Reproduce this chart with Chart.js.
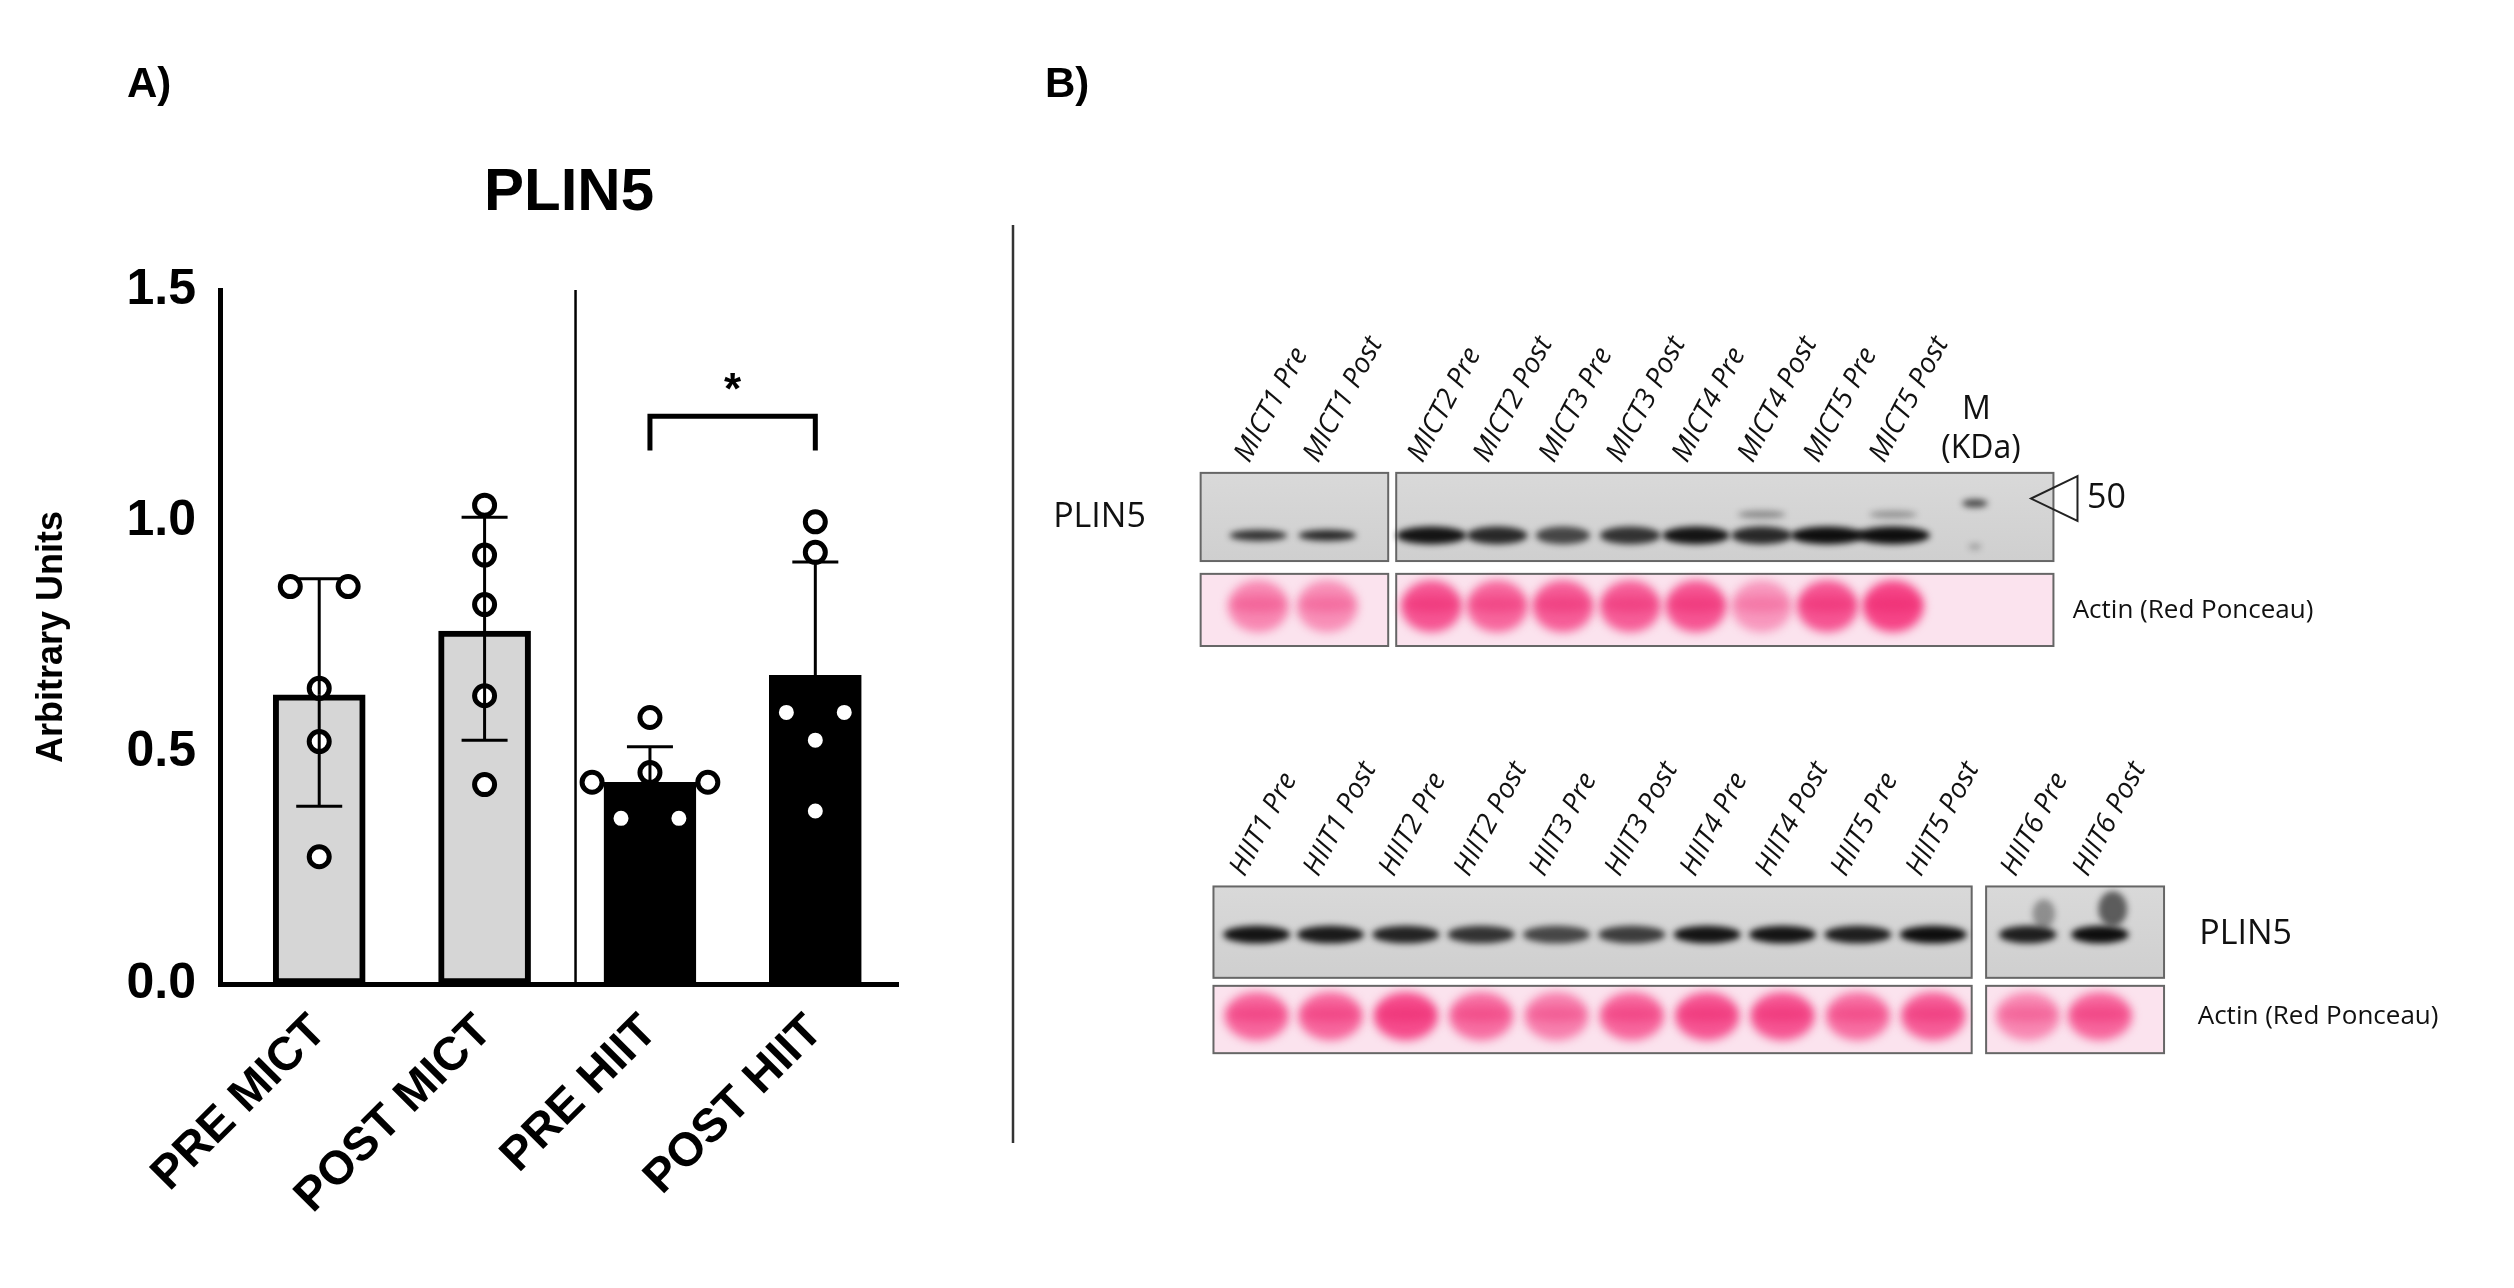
<!DOCTYPE html>
<html><head><meta charset="utf-8">
<script src="https://cdn.jsdelivr.net/npm/chart.js@4/dist/chart.umd.min.js"></script>
<style>html,body{margin:0;padding:0;background:#fff}#w{width:2514px;height:1288px;position:relative}</style>
</head><body><div id="w"><canvas id="c" width="2514" height="1288"></canvas></div>
<script>
const categories = ['PRE MICT','POST MICT','PRE HIIT','POST HIIT'];
const means = [0.625, 0.763, 0.436, 0.667];
const errUpper = [0.876, 1.009, 0.513, 0.912];
const errLower = [0.384, 0.527, null, null];
const pointsPreMICT = [0.859, 0.859, 0.639, 0.524, 0.275];
const pointsPostMICT = [1.035, 0.927, 0.820, 0.623, 0.431];
const pointsPreHIIT = [0.576, 0.457, 0.436, 0.436, 0.358, 0.358];
const pointsPostHIIT = [0.999, 0.933, 0.587, 0.587, 0.527, 0.374];
const yTicks = [0, 0.5, 1.0, 1.5];
const sigY = 1.227, sigLeg = 1.153;
const micLanes = ['MICT1 Pre','MICT1 Post','MICT2 Pre','MICT2 Post','MICT3 Pre','MICT3 Post','MICT4 Pre','MICT4 Post','MICT5 Pre','MICT5 Post'];
const hiitLanes = ['HIIT1 Pre','HIIT1 Post','HIIT2 Pre','HIIT2 Post','HIIT3 Pre','HIIT3 Post','HIIT4 Pre','HIIT4 Post','HIIT5 Pre','HIIT5 Post','HIIT6 Pre','HIIT6 Post'];

const allPts = [pointsPreMICT, pointsPostMICT, pointsPreHIIT, pointsPostHIIT];
// simple beeswarm: cluster near-equal values, spread symmetrically around the category
function swarm(vals, gi){
  const sorted=[...vals].sort((a,b)=>b-a), clusters=[];
  sorted.forEach(v=>{
    const c=clusters[clusters.length-1];
    if(c && Math.abs(c[c.length-1]-v)<0.045) c.push(v); else clusters.push([v]);
  });
  const out=[];
  clusters.forEach(c=>{
    const n=c.length, step=0.35;
    const order=n===3?[1,0,2]:c.map((_,k)=>k);
    c.forEach((v,k)=>out.push({x:gi+(order[k]-(n-1)/2)*step,y:v}));
  });
  return out;
}
const scatterData = allPts.flatMap((a,i)=>swarm(a,i));

const S = 1.603;
const F = 'Liberation Sans, Arial, sans-serif';
const B = '"Open Sans", Calibri, sans-serif';

function blotBox(ctx,x,y,w,h){
  ctx.save();
  const g=ctx.createLinearGradient(x,y,x,y+h);
  g.addColorStop(0,'#d9d9d9');g.addColorStop(1,'#cfcfcf');
  ctx.fillStyle=g;ctx.fillRect(x,y,w,h);
  ctx.strokeStyle='#666';ctx.lineWidth=2;ctx.strokeRect(x,y,w,h);ctx.restore();
}
function band(ctx,cx,cy,w,h,a){
  ctx.save();ctx.fillStyle=`rgba(10,10,10,${a})`;ctx.filter='blur(3px)';
  ctx.beginPath();ctx.ellipse(cx,cy,w/2,h/2,0,0,Math.PI*2);ctx.fill();ctx.restore();
}
function pinkBox(ctx,x,y,w,h){
  ctx.save();ctx.fillStyle='#fbe3ee';ctx.fillRect(x,y,w,h);
  ctx.strokeStyle='#666';ctx.lineWidth=2;ctx.strokeRect(x,y,w,h);ctx.restore();
}
function pinkLane(ctx,cx,y,h,w,a){
  ctx.save();ctx.filter='blur(5px)';ctx.fillStyle=`rgba(245,60,130,${a})`;
  ctx.beginPath();ctx.ellipse(cx,y+h*0.45,w/2,h*0.36,0,0,Math.PI*2);ctx.fill();
  ctx.fillStyle=`rgba(235,40,110,${a*0.6})`;
  ctx.beginPath();ctx.ellipse(cx,y+h*0.42,w*0.45,h*0.12,0,0,Math.PI*2);ctx.fill();
  ctx.restore();
}
function laneLabel(ctx,t,x,y){
  ctx.save();ctx.translate(x,y);ctx.rotate(-62*Math.PI/180);
  ctx.font='italic 28px '+B;ctx.fillStyle='#111';ctx.textAlign='left';ctx.textBaseline='middle';
  ctx.fillText(t,0,0);ctx.restore();
}

const deco = {
  id:'deco',
  afterDatasetsDraw(chart){
    const ctx=chart.ctx, xs=chart.scales.x, ys=chart.scales.y;
    ctx.save();
    ctx.strokeStyle='#000';ctx.lineWidth=3;
    means.forEach((m,i)=>{
      const x=xs.getPixelForValue(i), cap=23;
      [errUpper[i],errLower[i]].forEach(e=>{
        if(e==null)return;
        const y=ys.getPixelForValue(e);
        ctx.beginPath();ctx.moveTo(x,ys.getPixelForValue(m));ctx.lineTo(x,y);ctx.stroke();
        ctx.beginPath();ctx.moveTo(x-cap,y);ctx.lineTo(x+cap,y);ctx.stroke();
      });
    });
    ctx.restore();
  },
  afterDraw(chart){
    const ctx=chart.ctx, xs=chart.scales.x, ys=chart.scales.y;
    ctx.save();
    ctx.strokeStyle='#000';ctx.lineWidth=2.5;
    const sx=xs.getPixelForValue(1.55);
    ctx.beginPath();ctx.moveTo(sx,ys.getPixelForValue(1.5));ctx.lineTo(sx,ys.getPixelForValue(0));ctx.stroke();
    const x1=xs.getPixelForValue(2), x2=xs.getPixelForValue(3);
    ctx.lineWidth=5;ctx.beginPath();
    ctx.moveTo(x1,ys.getPixelForValue(sigLeg));ctx.lineTo(x1,ys.getPixelForValue(sigY));
    ctx.lineTo(x2,ys.getPixelForValue(sigY));ctx.lineTo(x2,ys.getPixelForValue(sigLeg));ctx.stroke();
    ctx.fillStyle='#000';ctx.font='bold 44px '+F;ctx.textAlign='center';ctx.textBaseline='alphabetic';
    ctx.fillText('*',(x1+x2)/2,ys.getPixelForValue(sigY)-12);
    ctx.font='bold 60px '+F;ctx.fillText('PLIN5',569,210);
    ctx.font='bold 42px '+F;ctx.textAlign='left';
    ctx.fillText('A)',127,97);ctx.fillText('B)',1045,97);
    ctx.lineWidth=2.5;ctx.strokeStyle='#333';
    ctx.beginPath();ctx.moveTo(1013,225);ctx.lineTo(1013,1143);ctx.stroke();
    // top blots
    blotBox(ctx,749*S,295*S,117*S,55*S);
    blotBox(ctx,871*S,295*S,410*S,55*S);
    const topX=[785,828,893,934,975,1017,1058,1099,1140,1181];
    const topA=[0.8,0.85,0.95,0.85,0.7,0.8,0.95,0.85,0.98,0.98];
    const topW=[36,36,44,38,34,38,42,38,46,46];
    topX.forEach((x,i)=>{band(ctx,x*S,334*S,topW[i]*S,(i<2?7:11)*S,topA[i]);});
    band(ctx,1099*S,321*S,30*S,5*S,0.35);band(ctx,1181*S,321*S,30*S,5*S,0.3);
    band(ctx,1232*S,314*S,16*S,5*S,0.7);band(ctx,1232*S,341*S,8*S,4*S,0.25);
    pinkBox(ctx,749*S,358*S,117*S,45*S);pinkBox(ctx,871*S,358*S,410*S,45*S);
    const topP=[0.55,0.5,0.85,0.75,0.8,0.8,0.85,0.45,0.85,0.95];
    topX.forEach((x,i)=>pinkLane(ctx,x*S,358*S,45*S,38*S,topP[i]));
    micLanes.forEach((t,i)=>laneLabel(ctx,t,(topX[i]-10)*S,287*S));
    ctx.fillStyle='#111';ctx.font='32px '+B;ctx.textAlign='left';ctx.textBaseline='middle';
    ctx.fillText('M',1224*S,256*S);ctx.fillText('(KDa)',1211*S,280*S);
    ctx.font='34px '+B;ctx.fillText('PLIN5',657*S,323*S);ctx.fillText('50',1302*S,311*S);
    ctx.font='26px '+B;ctx.fillText('Actin (Red Ponceau)',1293*S,381*S);
    ctx.lineWidth=2;ctx.strokeStyle='#222';ctx.beginPath();
    ctx.moveTo(1296*S,297*S);ctx.lineTo(1267*S,311*S);ctx.lineTo(1296*S,325*S);ctx.closePath();ctx.stroke();
    // bottom blots
    blotBox(ctx,757*S,553*S,473*S,57*S);blotBox(ctx,1239*S,553*S,111*S,57*S);
    const botX=[784,830,877,924,971,1018,1065,1112,1159,1206,1265,1310];
    const botA=[0.95,0.92,0.88,0.8,0.7,0.75,0.95,0.95,0.9,0.98,0.9,0.98];
    botX.forEach((x,i)=>band(ctx,x*S,583*S,(i>=10?36:42)*S,11*S,botA[i]));
    band(ctx,1275*S,570*S,14*S,18*S,0.35);band(ctx,1318*S,567*S,18*S,22*S,0.6);
    pinkBox(ctx,757*S,615*S,473*S,42*S);pinkBox(ctx,1239*S,615*S,111*S,42*S);
    const botP=[0.75,0.75,0.9,0.7,0.6,0.75,0.85,0.85,0.7,0.8,0.55,0.75];
    botX.forEach((x,i)=>pinkLane(ctx,x*S,615*S,42*S,40*S,botP[i]));
    hiitLanes.forEach((t,i)=>laneLabel(ctx,t,(botX[i]-12)*S,545*S));
    ctx.fillStyle='#111';ctx.font='34px '+B;ctx.textAlign='left';ctx.textBaseline='middle';
    ctx.fillText('PLIN5',1372*S,583*S);
    ctx.font='26px '+B;ctx.fillText('Actin (Red Ponceau)',1371*S,634*S);
    ctx.restore();
  }
};

new Chart(document.getElementById('c'),{
  data:{datasets:[
    {type:'scatter',data:scatterData,pointRadius:10,pointBorderWidth:5,pointBackgroundColor:'#fff',pointBorderColor:'#000',order:0},
    {type:'bar',data:means.map((v,i)=>({x:i,y:v})),barThickness:92,
     backgroundColor:['#d6d6d6','#d6d6d6','#000','#000'],borderColor:'#000',borderWidth:6,borderSkipped:false,order:1}
  ]},
  options:{responsive:false,animation:false,
    layout:{padding:{left:30,right:1616,top:290,bottom:0}},
    plugins:{legend:{display:false},tooltip:{enabled:false}},
    scales:{
      x:{type:'linear',offset:false,min:-0.6,max:3.5,afterBuildTicks:s=>{s.ticks=categories.map((c,i)=>({value:i}));},
        afterFit:s=>{s.height=304;},
        grid:{display:false,drawOnChartArea:false,drawTicks:true,tickLength:18,tickWidth:5,tickColor:'#000',offset:false},
        border:{color:'#000',width:5},
        ticks:{minRotation:45,maxRotation:45,color:'#000',font:{family:F,weight:'bold',size:47},padding:2,callback:v=>categories[v]}},
      y:{min:0,max:1.5,afterBuildTicks:s=>{s.ticks=yTicks.map(v=>({value:v}));},
        afterFit:s=>{s.width=190;},
        grid:{display:false,drawOnChartArea:false,drawTicks:true,tickLength:18,tickWidth:5,tickColor:'#000'},
        border:{color:'#000',width:5},
        title:{display:true,text:'Arbitrary Units',color:'#000',font:{family:F,weight:'bold',size:36},padding:{top:0,bottom:14}},
        ticks:{color:'#000',font:{family:F,weight:'bold',size:50},padding:6,callback:v=>v.toFixed(1)}}
    }},
  plugins:[deco]
});
</script></body></html>
